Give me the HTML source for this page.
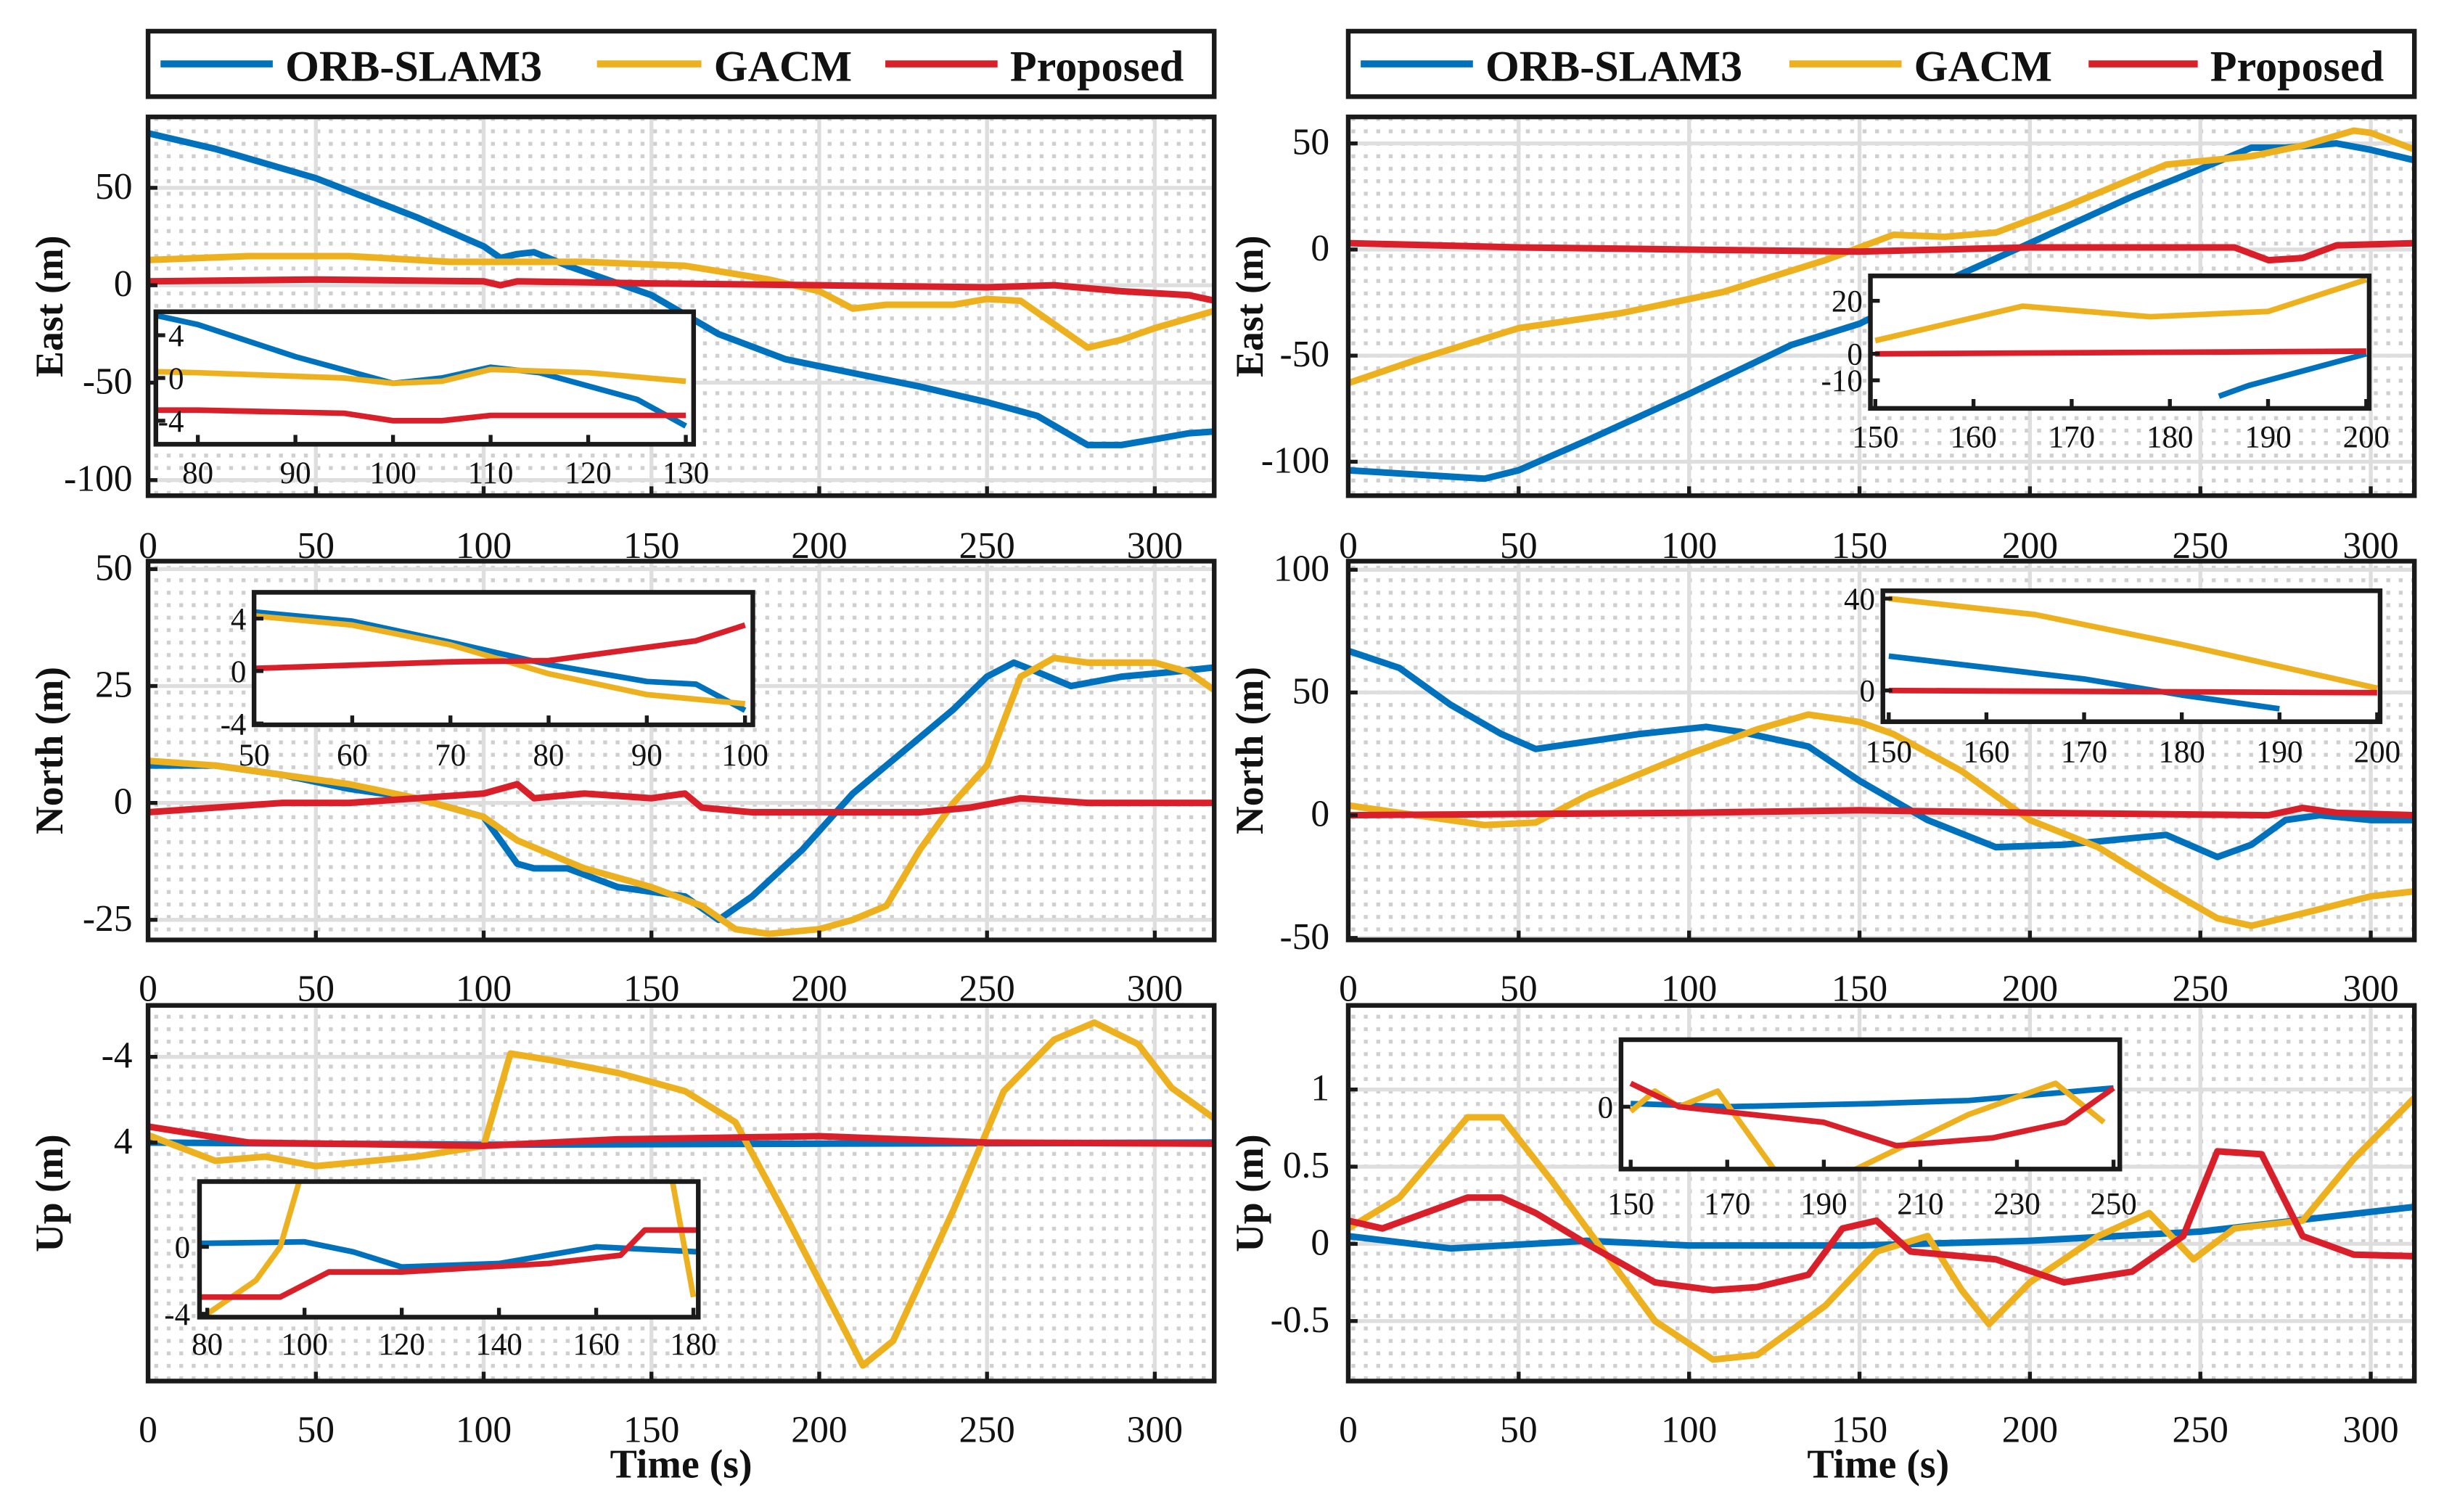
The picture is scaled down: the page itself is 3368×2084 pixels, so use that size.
<!DOCTYPE html>
<html><head><meta charset="utf-8"><style>
html,body{margin:0;padding:0;background:#fff}
svg{display:block}
text{font-family:"Liberation Serif",serif}
</style></head><body>
<svg id="chart" xmlns="http://www.w3.org/2000/svg" width="3368" height="2084" viewBox="0 0 1568 970" preserveAspectRatio="none">
<defs>
<pattern id="dots" width="8" height="8" patternUnits="userSpaceOnUse"><rect x="3" y="3" width="2.5" height="2.5" fill="#cfcfcf"/></pattern>
</defs>
<g id="root"></g>
</svg>
<script>
// ---- data: [time (s), value] ----
const eastL_orb=[[0,78],[20,70],[50,55],[80,35],[100,20],[105,14],[110,16],[115,17],[125,10],[150,-5],[170,-25],[190,-38],[210,-45],[230,-52],[250,-60],[265,-67],[280,-82],[290,-82],[300,-79],[310,-76],[318,-75]];
const eastL_gacm=[[0,13],[30,15],[60,15],[90,12],[100,12],[110,12],[130,12],[160,10],[185,3],[200,-3],[210,-12],[220,-10],[240,-10],[250,-7],[260,-8],[270,-20],[280,-32],[290,-28],[300,-22],[318,-13]];
const eastL_prop=[[0,2],[50,3],[100,2],[105,0],[110,2],[150,1],[200,0],[250,-1],[270,0],[290,-3],[310,-5],[318,-8]];
const eastLi_orb=[[75,6],[80,5],[90,2],[100,-0.5],[105,0],[110,1],[115,0.5],[125,-2],[130,-4.5]];
const eastLi_gacm=[[75,0.6],[80,0.5],[95,0],[100,-0.5],[105,-0.3],[110,0.8],[120,0.5],[130,-0.3]];
const eastLi_prop=[[75,-3],[80,-3],[95,-3.3],[100,-4],[105,-4],[110,-3.5],[120,-3.5],[130,-3.5]];

const northL_orb=[[0,8],[20,8],[40,6],[60,3],[80,1],[100,-3],[110,-13],[115,-14],[125,-14],[140,-18],[160,-20],[170,-25],[180,-20],[195,-10],[210,2],[230,14],[240,20],[250,27],[258,30],[265,28],[275,25],[290,27],[305,28],[318,29]];
const northL_gacm=[[0,9],[20,8],[40,6],[60,4],[80,1],[95,-2],[100,-3],[110,-8],[130,-14],[150,-18],[165,-22],[175,-27],[185,-28],[200,-27],[210,-25],[220,-22],[230,-10],[240,0],[250,8],[260,27],[270,31],[280,30],[300,30],[310,28],[318,24]];
const northL_prop=[[0,-2],[20,-1],[40,0],[60,0],[80,1],[100,2],[110,4],[115,1],[130,2],[150,1],[160,2],[165,-1],[180,-2],[200,-2],[230,-2],[245,-1],[260,1],[280,0],[300,0],[318,0]];
const northLi_orb=[[50,4.5],[60,3.8],[70,2.2],[80,0.5],[90,-0.8],[95,-1],[100,-3]];
const northLi_gacm=[[50,4.2],[60,3.5],[70,2],[80,-0.2],[90,-1.8],[100,-2.5]];
const northLi_prop=[[50,0.2],[70,0.7],[80,0.8],[90,1.8],[95,2.3],[100,3.5]];

const upL_orb=[[0,4],[100,4.2],[200,4.1],[318,4]];
const upL_prop=[[0,2.5],[30,4],[100,4.3],[140,3.7],[200,3.4],[250,4],[318,4.1]];
const upL_gacm=[[0,3.3],[20,5.7],[35,5.3],[50,6.2],[80,5.3],[100,4.3],[108,-4.3],[120,-3.7],[140,-2.5],[160,-0.8],[175,2.1],[190,10.8],[213,24.8],[222,22.5],[240,10.3],[255,-0.8],[270,-5.6],[282,-7.2],[295,-5.2],[305,-1.1],[318,1.8]];
const upLi_orb=[[78,0.2],[100,0.3],[110,-0.3],[120,-1.2],[140,-1],[160,0],[181,-0.3]];
const upLi_gacm=[[80,-4],[90,-2],[95,0],[100,5],[175,5],[180,-3]];
const upLi_prop=[[78,-3],[95,-3],[105,-1.5],[120,-1.5],[150,-1],[165,-0.5],[170,1],[181,1]];

const eastR_orb=[[0,-104],[20,-106],[40,-108],[50,-104],[70,-90],[100,-68],[130,-45],[150,-35],[175,-15],[200,3],[230,25],[250,38],[265,48],[275,48],[290,50],[300,47],[313,42]];
const eastR_gacm=[[0,-63],[20,-52],[50,-37],[80,-30],[110,-20],[140,-5],[160,7],[175,6],[190,8],[210,20],[240,40],[265,44],[280,49],[295,56],[300,55],[313,47]];
const eastR_prop=[[0,3],[50,1],[100,0],[150,-1],[200,1],[260,1],[270,-5],[280,-4],[290,2],[313,3]];
const eastRi_orb=[[185,-16],[188,-12],[200,0]];
const eastRi_gacm=[[150,5],[165,18],[178,14],[190,16],[200,28]];
const eastRi_prop=[[150,0],[200,1]];

const northR_orb=[[0,67],[15,60],[30,45],[45,33],[55,27],[70,30],[85,33],[105,36],[115,34],[135,28],[150,14],[170,-2],[190,-13],[210,-12],[240,-8],[255,-17],[265,-12],[275,-2],[285,0],[300,-2],[313,-2]];
const northR_gacm=[[0,4],[20,0],[40,-4],[55,-3],[70,8],[100,25],[120,35],[135,41],[150,38],[160,33],[180,18],[200,-2],[220,-13],[240,-30],[255,-42],[265,-45],[280,-40],[300,-33],[313,-31]];
const northR_prop=[[0,0],[100,1],[150,2],[200,1],[270,0],[280,3],[290,1],[313,0]];
const northRi_orb=[[150,15],[170,5],[180,-2],[190,-8]];
const northRi_gacm=[[150,40],[165,33],[180,20],[200,1]];
const northRi_prop=[[150,0],[200,-1]];

const upR_orb=[[0,0.05],[30,-0.03],[70,0.02],[100,-0.01],[150,-0.01],[200,0.02],[250,0.08],[313,0.24]];
const upR_gacm=[[0,0.1],[15,0.3],[35,0.82],[45,0.82],[60,0.4],[75,-0.05],[90,-0.5],[107,-0.75],[120,-0.72],[140,-0.4],[155,-0.05],[170,0.05],[180,-0.3],[188,-0.52],[200,-0.25],[220,0.05],[235,0.2],[248,-0.1],[260,0.1],[280,0.15],[295,0.55],[313,0.95]];
const upR_prop=[[0,0.15],[10,0.1],[35,0.3],[45,0.3],[55,0.2],[70,0],[90,-0.25],[107,-0.3],[120,-0.28],[135,-0.2],[145,0.1],[155,0.15],[165,-0.05],[190,-0.1],[210,-0.25],[230,-0.18],[245,0.05],[255,0.6],[268,0.58],[280,0.05],[295,-0.07],[313,-0.08]];
const upRi_orb=[[150,0.02],[170,0],[200,0.02],[220,0.04],[250,0.12]];
const upRi_gacm=[[150,-0.03],[155,0.1],[160,0],[168,0.1],[182,-0.5],[190,-0.5],[200,-0.35],[220,-0.05],[238,0.15],[248,-0.1]];
const upRi_prop=[[150,0.15],[160,0],[175,-0.05],[190,-0.1],[205,-0.25],[225,-0.2],[240,-0.1],[250,0.12]];

const xTicksMain=[0,50,100,150,200,250,300];
const legendNames=["ORB-SLAM3","GACM","Proposed"];

const C=["#0072BD","#EDB120","#D9202A"];
const NS="http://www.w3.org/2000/svg";
const root=document.getElementById('root');
let clipId=0;
function el(tag,attrs,parent){const e=document.createElementNS(NS,tag);for(const k in attrs)e.setAttribute(k,attrs[k]);(parent||root).appendChild(e);return e;}
function mk(box,xd,yd){return{sx:t=>box[0]+(t-xd[0])/(xd[1]-xd[0])*(box[1]-box[0]),sy:v=>box[2]+(v-yd[0])/(yd[1]-yd[0])*(box[3]-box[2])};}
function txt(s,x,y,size,anchor,bold,parent){const e=el('text',{x:x,y:y,'font-size':size,'text-anchor':anchor,'font-weight':bold?'bold':'normal',fill:'#111'},parent);e.textContent=s;return e;}
function series(g,data,sc,color,name,w){
  const d=data.map((p,i)=>(i?'L':'M')+sc.sx(p[0]).toFixed(1)+' '+sc.sy(p[1]).toFixed(1)).join(' ');
  const p=el('path',{d:d,fill:'none',stroke:color,'stroke-width':w,'stroke-linejoin':'round'},g);
  
  
}
function axes(name,box,xd,yd,xticks,yticks,ylabels,sers,opts){
  const g=el('g',{});
  
  
  const sc=mk(box,xd,yd);
  const id='c'+(clipId++);
  const cp=el('clipPath',{id:id},g);el('rect',{x:box[0],y:box[2],width:box[1]-box[0],height:box[3]-box[2]},cp);
  el('rect',{x:box[0],y:box[2],width:box[1]-box[0],height:box[3]-box[2],fill:'#fff'},g);
  if(!opts.inset){
    el('rect',{x:box[0],y:box[2],width:box[1]-box[0],height:box[3]-box[2],fill:'url(#dots)'},g);
    xticks.forEach(t=>el('line',{x1:sc.sx(t),x2:sc.sx(t),y1:box[2],y2:box[3],stroke:'#dedede','stroke-width':2.5},g));
    yticks.forEach(v=>el('line',{x1:box[0],x2:box[1],y1:sc.sy(v),y2:sc.sy(v),stroke:'#dedede','stroke-width':2.5},g));
  }
  const sg=el('g',{'clip-path':'url(#'+id+')'},g);
  sers.forEach((s,i)=>series(sg,s,sc,C[i],name+'-'+['orb-slam3','gacm','proposed'][i]+'-line',opts.inset?3.6:4.2));
  el('rect',{x:box[0],y:box[2],width:box[1]-box[0],height:box[3]-box[2],fill:'none',stroke:'#1a1a1a','stroke-width':3}, g);
  const fs=opts.inset?20:24;
  xticks.forEach(t=>{el('line',{x1:sc.sx(t),x2:sc.sx(t),y1:box[3],y2:box[3]-6,stroke:'#1a1a1a','stroke-width':2.5},g);
    txt(String(t),sc.sx(t),opts.xly,fs,'middle',false,g);});
  yticks.forEach((v,i)=>{el('line',{x1:box[0],x2:box[0]+6,y1:sc.sy(v),y2:sc.sy(v),stroke:'#1a1a1a','stroke-width':2.5},g);
    txt(ylabels[i],opts.ylx,sc.sy(v)+7,fs,'end',false,g);});
  if(opts.title){const t=txt(opts.title,0,0,25,'middle',true,g);t.setAttribute('transform','translate('+opts.tx+','+((box[2]+box[3])/2)+') rotate(-90)');}
  return g;
}
function legend(x0,x1,pos){
  const g=el('g',{});
  
  
  el('rect',{x:x0,y:20,width:x1-x0,height:42,fill:'#fff',stroke:'#1a1a1a','stroke-width':3},g);
  legendNames.forEach((n,i)=>{
    const e=el('g',{},g);
    
    
    el('line',{x1:pos[i][0],x2:pos[i][1],y1:41,y2:41,stroke:C[i],'stroke-width':4.5},e);
    txt(n,pos[i][1]+8,52,28,'start',true,e);
  });
}
legend(95,779,[[103,175],[383,450],[568,640]]);
legend(865,1549,[[873,945],[1148,1220],[1340,1410]]);
const L=[95,779],R=[865,1549];
// Left column
axes('east-left',[L[0],L[1],75,318],[0,317.7],[86.4,-108],xTicksMain,[50,0,-50,-100],['50','0','-50','-100'],[eastL_orb,eastL_gacm,eastL_prop],{xly:358,ylx:85,title:'East (m)',tx:40});
axes('east-left-inset',[100,445,200,285],[75.7,130.8],[6.2,-6.2],[80,90,100,110,120,130],[4,0,-4],['4','0','-4'],[eastLi_orb,eastLi_gacm,eastLi_prop],{inset:true,xly:310,ylx:118});
axes('north-left',[L[0],L[1],360,603],[0,317.7],[51.7,-29.3],xTicksMain,[50,25,0,-25],['50','25','0','-25'],[northL_orb,northL_gacm,northL_prop],{xly:642,ylx:85,title:'North (m)',tx:40});
axes('north-left-inset',[163,483,380,465],[50,100.8],[6.0,-4.1],[50,60,70,80,90,100],[4,0,-4],['4','0','-4'],[northLi_orb,northLi_gacm,northLi_prop],{inset:true,xly:491,ylx:158});
axes('up-left',[L[0],L[1],645,886],[0,317.7],[-8.8,26.25],xTicksMain,[-4,4],['-4','4'],[upL_orb,upL_gacm,upL_prop],{xly:925,ylx:85,title:'Up (m)',tx:40});
axes('up-left-inset',[128,448,758,845],[78.4,181],[3.9,-4.2],[80,100,120,140,160,180],[0,-4],['0','-4'],[upLi_orb,upLi_gacm,upLi_prop],{inset:true,xly:869,ylx:122});
// Right column
axes('east-right',[R[0],R[1],75,318],[0,312.8],[62.5,-116],xTicksMain,[50,0,-50,-100],['50','0','-50','-100'],[eastR_orb,eastR_gacm,eastR_prop],{xly:358,ylx:853,title:'East (m)',tx:810});
axes('east-right-inset',[1200,1520,177,262],[149.5,200.3],[29.4,-20.6],[150,160,170,180,190,200],[20,0,-10],['20','0','-10'],[eastRi_orb,eastRi_gacm,eastRi_prop],{inset:true,xly:287,ylx:1195});
axes('north-right',[R[0],R[1],360,603],[0,312.8],[103.5,-50.8],xTicksMain,[100,50,0,-50],['100','50','0','-50'],[northR_orb,northR_gacm,northR_prop],{xly:642,ylx:853,title:'North (m)',tx:810});
axes('north-right-inset',[1208,1527,379,463],[149.4,200.3],[43.4,-13.6],[150,160,170,180,190,200],[40,0],['40','0'],[northRi_orb,northRi_gacm,northRi_prop],{inset:true,xly:489,ylx:1203});
axes('up-right',[R[0],R[1],645,886],[0,312.8],[1.545,-0.889],xTicksMain,[1,0.5,0,-0.5],['1','0.5','0','-0.5'],[upR_orb,upR_gacm,upR_prop],{xly:925,ylx:853,title:'Up (m)',tx:810});
axes('up-right-inset',[1040,1360,667,750],[148,251.3],[0.43,-0.4],[150,170,190,210,230,250],[0],['0'],[upRi_orb,upRi_gacm,upRi_prop],{inset:true,xly:779,ylx:1035});
const t1=txt('Time (s)',437,948,26,'middle',true);


const t2=txt('Time (s)',1205,948,26,'middle',true);


</script>
</body></html>
